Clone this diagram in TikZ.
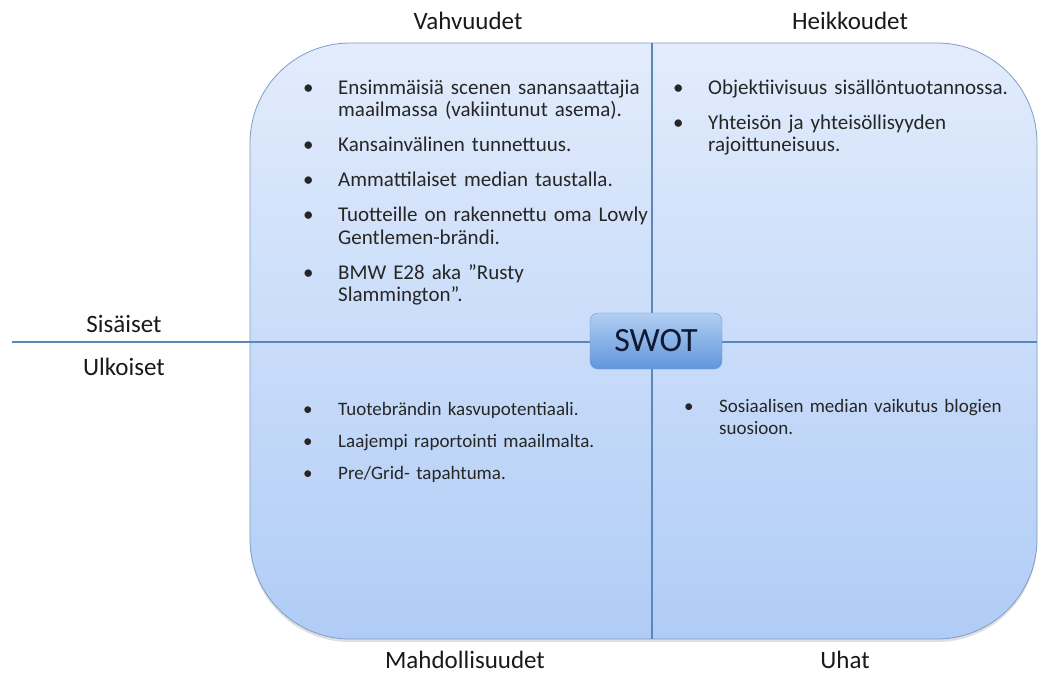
\documentclass[tikz,border=0pt]{standalone}
\usepackage{fontspec}
\setmainfont{Carlito}
\usetikzlibrary{positioning, shadows}

\definecolor{swotline}{RGB}{92,135,185}
\definecolor{swotedge}{RGB}{125,158,200}
\definecolor{swottop}{RGB}{226,236,252}
\definecolor{swotbottom}{RGB}{176,204,246}
\definecolor{keytop}{RGB}{178,206,243}
\definecolor{keybottom}{RGB}{96,150,220}
\definecolor{keyedge}{RGB}{110,155,215}
\definecolor{keytext}{RGB}{15,25,50}
\definecolor{bodytext}{RGB}{38,38,38}

\newcommand{\swotpoint}[1]{\par\noindent\hangindent=35pt\hangafter=1\makebox[35pt][l]{\strut\textbullet}#1\par}

\tikzstyle{board} = [draw=swotedge, line width=0.8pt, rounded corners=100pt, minimum width=787pt, minimum height=596pt, top color=swottop, bottom color=swotbottom, drop shadow={opacity=0.25, shadow xshift=0pt, shadow yshift=-3pt}]
\tikzstyle{divider} = [draw=swotline, line width=1.8pt]
\tikzstyle{key} = [rectangle, rounded corners=8pt, minimum width=132pt, minimum height=56pt, draw=keyedge, top color=keytop, bottom color=keybottom, text=keytext, font=\fontsize{34}{38}\selectfont]
\tikzstyle{heading} = [inner sep=0pt, text=black!90, font=\fontsize{25}{28}\selectfont]
\tikzstyle{points} = [anchor=north west, inner sep=0pt, text width=360pt, text=bodytext, font=\fontsize{21}{22.5}\selectfont, execute at begin node={\raggedright\setlength{\parskip}{12.5pt}}]
\tikzstyle{lowpoints} = [points, font=\fontsize{19}{21.5}\selectfont, execute at begin node={\setlength{\parskip}{10.5pt}}]

\begin{document}
\begin{tikzpicture}[x=1pt, y=-1pt]
\useasboundingbox (0,0) rectangle (1042,675);

%% the board and its cross
\node (board) [board] at (643.5,341) {};
\coordinate (midtop) at (652,43);
\coordinate (midbot) at (652,639);
\coordinate (outer) at (12,342);
\draw [divider] (midtop) -- (midbot);
\draw [divider] (outer) -- (board.east |- outer);
\node (swot) [key] at (656,341) {SWOT};

%% headings
\node (vahv)  [heading] at (468,21)  {Vahvuudet};
\node (heikk) [heading] at (850,21)  {Heikkoudet};
\node (sis)   [heading] at (124,324) {Sisäiset};
\node (ulk)   [heading] at (124,367) {Ulkoiset};
\node (mahd)  [heading] at (465,660) {Mahdollisuudet};
\node (uhat)  [heading] at (845,660) {Uhat};

%% the four lists
\node (str) [points] at (303,59) {%
  \swotpoint{Ensimmäisiä scenen sanansaattajia\newline maailmassa (vakiintunut asema).}
  \swotpoint{Kansainvälinen tunnettuus.}
  \swotpoint{Ammattilaiset median taustalla.}
  \swotpoint{Tuotteille on rakennettu oma Lowly\newline Gentlemen-brändi.}
  \swotpoint{BMW E28 aka ”Rusty\newline Slammington”.}};
\node (weak) [points] at (673,59) {%
  \swotpoint{Objektiivisuus sisällöntuotannossa.}
  \swotpoint{Yhteisön ja yhteisöllisyyden\newline rajoittuneisuus.}};
\node (opp) [lowpoints] at (303,383.5) {%
  \swotpoint{Tuotebrändin kasvupotentiaali.}
  \swotpoint{Laajempi raportointi maailmalta.}
  \swotpoint{Pre/Grid- tapahtuma.}};
\node (threat) [lowpoints] at (684,380.5) {%
  \swotpoint{Sosiaalisen median vaikutus blogien\newline suosioon.}};
\end{tikzpicture}
\end{document}
